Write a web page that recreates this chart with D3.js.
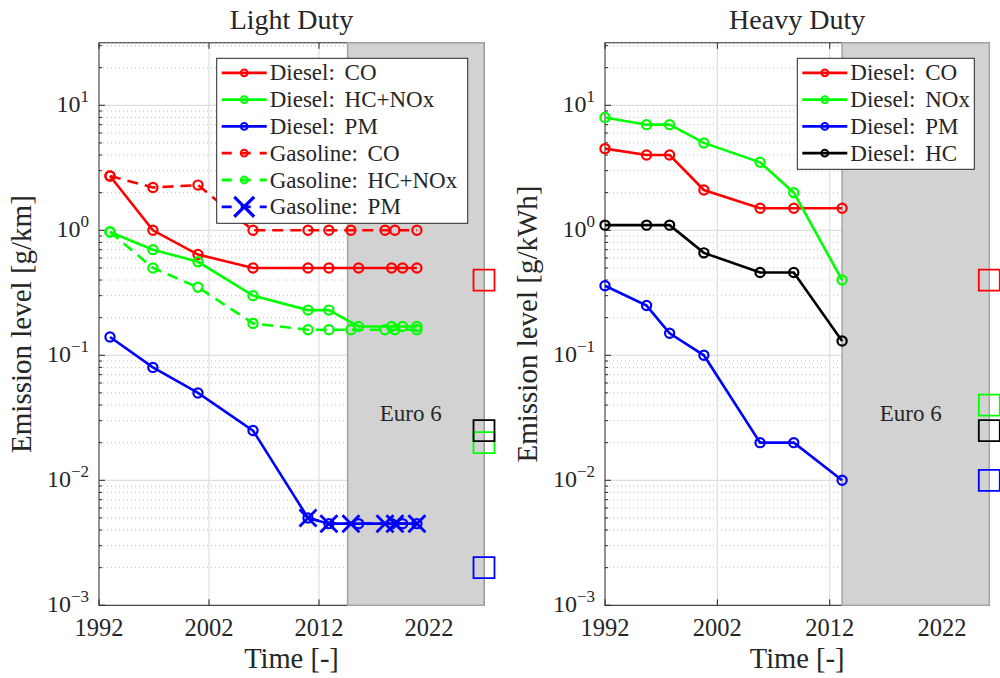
<!DOCTYPE html>
<html>
<head>
<meta charset="utf-8">
<script src="https://cdn.jsdelivr.net/npm/d3@7.9.0/dist/d3.min.js"></script>
<style>
  body { margin: 0; background: #fff; }
  svg text { font-family: "Liberation Serif", "DejaVu Serif", serif; fill: #262626; }
</style>
</head>
<body>
<svg id="chart" width="1000" height="678"></svg>
<script>
// ---- Light duty limits [g/km] ----
const ldYearsDiesel   = [1993.0, 1996.9, 2001.0, 2006.0, 2011.0, 2012.9, 2015.6, 2018.6, 2019.6, 2020.9];
const ldYearsGasoline = [1993.0, 1996.9, 2001.0, 2006.0, 2011.0, 2012.9, 2014.9, 2018.0, 2018.9, 2020.9];
const ldYearsGasPM    = [2011.0, 2012.9, 2014.9, 2018.0, 2018.9, 2020.9];
const ldDieselCO    = [2.72, 1.0, 0.64, 0.5, 0.5, 0.5, 0.5, 0.5, 0.5, 0.5];
const ldDieselHCNOx = [0.97, 0.7, 0.56, 0.3, 0.23, 0.23, 0.17, 0.17, 0.17, 0.17];
const ldDieselPM    = [0.14, 0.08, 0.05, 0.025, 0.005, 0.0045, 0.0045, 0.0045, 0.0045, 0.0045];
const ldGasCO       = [2.72, 2.2, 2.3, 1.0, 1.0, 1.0, 1.0, 1.0, 1.0, 1.0];
const ldGasHCNOx    = [0.97, 0.5, 0.35, 0.18, 0.16, 0.16, 0.16, 0.16, 0.16, 0.16];
const ldGasPM       = [0.005, 0.0045, 0.0045, 0.0045, 0.0045, 0.0045];
// squares at the right edge (red, green, black, blue)
const ldTargets = [0.4, 0.02, 0.025, 0.002];

// ---- Heavy duty limits [g/kWh] ----
const hdYears    = [1992.0, 1995.7, 1997.75, 2000.8, 2005.8, 2008.8, 2013.1];
const hdDieselCO  = [4.5, 4.0, 4.0, 2.1, 1.5, 1.5, 1.5];
const hdDieselNOx = [8.0, 7.0, 7.0, 5.0, 3.5, 2.0, 0.4];
const hdDieselPM  = [0.36, 0.25, 0.15, 0.10, 0.02, 0.02, 0.01];
const hdDieselHC  = [1.1, 1.1, 1.1, 0.66, 0.46, 0.46, 0.13];
const hdTargets = [0.4, 0.04, 0.025, 0.01];

const xTickValues = [1992, 2002, 2012, 2022];
const targetColors = ['#ff0000', '#00ff00', '#000000', '#0000ff'];

const svg = d3.select('#chart');
const zip = (xs, ys) => xs.map((v, i) => [v, ys[i]]);

function drawPanel(p) {
  const x = d3.scaleLinear().domain(p.xDomain).range([p.left, p.right]);
  const y = d3.scaleLog().domain([1e-3, Math.pow(10, 1.5)]).range([605.3, 42.8]);
  const g = svg.append('g');
  const top = y.range()[1], bottom = y.range()[0];

  const yAll = y.ticks();
  const isMajor = v => Math.abs(Math.log10(v) - Math.round(Math.log10(v))) < 1e-9;

  // grid
  g.selectAll('.minor').data(yAll.filter(v => !isMajor(v))).join('line')
    .attr('x1', p.left).attr('x2', p.right)
    .attr('y1', d => y(d)).attr('y2', d => y(d))
    .attr('stroke', '#b8b8b8').attr('stroke-width', 0.9).attr('stroke-dasharray', '1,3');
  g.selectAll('.major').data(yAll.filter(isMajor)).join('line')
    .attr('x1', p.left).attr('x2', p.right)
    .attr('y1', d => y(d)).attr('y2', d => y(d))
    .attr('stroke', '#dedede').attr('stroke-width', 1.2);
  g.selectAll('.xgrid').data(xTickValues.slice(1)).join('line')
    .attr('x1', d => x(d)).attr('x2', d => x(d))
    .attr('y1', top).attr('y2', bottom)
    .attr('stroke', '#dedede').attr('stroke-width', 1.2);

  // box and ticks
  g.append('rect').attr('x', p.left).attr('y', top)
    .attr('width', p.right - p.left).attr('height', bottom - top)
    .attr('fill', 'none').attr('stroke', '#262626').attr('stroke-width', 1);
  g.selectAll('.yt').data(yAll).join('line')
    .attr('x1', p.left).attr('x2', d => p.left + (isMajor(d) ? 6 : 3))
    .attr('y1', d => y(d)).attr('y2', d => y(d))
    .attr('stroke', '#262626').attr('stroke-width', 1);
  g.selectAll('.xt').data(xTickValues).join('line')
    .attr('x1', d => x(d)).attr('x2', d => x(d))
    .attr('y1', bottom).attr('y2', bottom - 6)
    .attr('stroke', '#262626').attr('stroke-width', 1);
  g.selectAll('.xt2').data(xTickValues).join('line')
    .attr('x1', d => x(d)).attr('x2', d => x(d))
    .attr('y1', top).attr('y2', top + 6)
    .attr('stroke', '#262626').attr('stroke-width', 1);

  // tick labels
  g.selectAll('.xl').data(xTickValues).join('text')
    .attr('x', d => x(d)).attr('y', 636)
    .attr('text-anchor', 'middle').attr('font-size', 24.5)
    .text(d => d);
  const yl = g.selectAll('.yl').data(yAll.filter(isMajor)).join('text')
    .attr('x', p.left - 10).attr('y', d => y(d) + 6.5)
    .attr('text-anchor', 'end').attr('font-size', 24);
  yl.append('tspan').text('10');
  yl.append('tspan').attr('dy', -10).attr('font-size', 17)
    .text(d => { const e = Math.round(Math.log10(d)); return e < 0 ? '\u2212' + (-e) : e; });

  // Euro 6 region
  g.append('rect')
    .attr('x', x(p.euroStart)).attr('y', top)
    .attr('width', x(p.xDomain[1]) - x(p.euroStart)).attr('height', bottom - top)
    .attr('fill', '#d2d2d2').attr('stroke', '#a4a4a4').attr('stroke-width', 1.5);

  // series
  const line = d3.line().x(d => x(d[0])).y(d => y(d[1]));
  p.series.forEach(s => {
    const pts = zip(s.years, s.values);
    g.append('path').datum(pts).attr('d', line)
      .attr('fill', 'none').attr('stroke', s.color).attr('stroke-width', 2.6)
      .attr('stroke-dasharray', s.dashed ? '11,7' : null);
    if (s.marker === 'x') {
      g.selectAll(null).data(pts).join('path')
        .attr('transform', d => `translate(${x(d[0])},${y(d[1])})`)
        .attr('d', d3.symbol(d3.symbolX, 190))
        .attr('fill', 'none').attr('stroke', s.color).attr('stroke-width', 2.8);
    } else {
      g.selectAll(null).data(pts).join('circle')
        .attr('cx', d => x(d[0])).attr('cy', d => y(d[1])).attr('r', 4.6)
        .attr('fill', 'none').attr('stroke', s.color).attr('stroke-width', 2.2);
    }
  });

  // target squares on the right edge
  g.selectAll('.sq').data(p.targets).join('path')
    .attr('transform', d => `translate(${x(p.xDomain[1])},${y(d)})`)
    .attr('d', d3.symbol(d3.symbolSquare, 440))
    .attr('fill', 'none').attr('stroke', (d, i) => targetColors[i]).attr('stroke-width', 1.8);

  g.append('text')
    .attr('x', (x(p.euroStart) + x(p.xDomain[1])) / 2 - 5).attr('y', y(0.03))
    .attr('text-anchor', 'middle').attr('font-size', 23)
    .text('Euro 6');

  // titles and labels
  const cx = (p.left + p.right) / 2;
  g.append('text').attr('x', cx).attr('y', 29)
    .attr('text-anchor', 'middle').attr('font-size', 28).text(p.title);
  g.append('text').attr('x', cx).attr('y', 668)
    .attr('text-anchor', 'middle').attr('font-size', 28.5).text('Time [-]');
  g.append('text')
    .attr('transform', `translate(${p.ylabelX},${(top + bottom) / 2}) rotate(-90)`)
    .attr('text-anchor', 'middle').attr('dy', '0.35em').attr('font-size', 29)
    .text(p.ylabel);

  // legend
  const lg = g.append('g');
  lg.append('rect').attr('x', p.legend.x).attr('y', p.legend.y)
    .attr('width', p.legend.w).attr('height', p.legend.h)
    .attr('fill', '#fff').attr('stroke', '#262626').attr('stroke-width', 1);
  p.series.forEach((s, i) => {
    const ry = p.legend.y + 14.5 + i * 26.8;
    const lx = p.legend.x + 5;
    lg.append('line').attr('x1', lx).attr('x2', lx + 45).attr('y1', ry).attr('y2', ry)
      .attr('stroke', s.color).attr('stroke-width', 2.8)
      .attr('stroke-dasharray', s.dashed ? '10,9' : null);
    if (s.marker === 'x') {
      lg.append('path').attr('transform', `translate(${lx + 22.5},${ry})`)
        .attr('d', d3.symbol(d3.symbolX, 260))
        .attr('fill', 'none').attr('stroke', s.color).attr('stroke-width', 3.2);
    } else {
      lg.append('circle').attr('cx', lx + 22.5).attr('cy', ry).attr('r', 3.4)
        .attr('fill', 'none').attr('stroke', s.color).attr('stroke-width', 2);
    }
    lg.append('text').attr('x', lx + 48).attr('y', ry + 7.5)
      .attr('font-size', 23).style('word-spacing', '4px').text(s.label);
  });
}

drawPanel({
  title: 'Light Duty', ylabel: 'Emission level [g/km]', ylabelX: 21,
  left: 99, right: 484, xDomain: [1992, 2027], euroStart: 2014.6,
  targets: ldTargets,
  legend: { x: 216.7, y: 58.3, w: 251, h: 165 },
  series: [
    { label: 'Diesel: CO', color: '#ff0000', years: ldYearsDiesel, values: ldDieselCO },
    { label: 'Diesel: HC+NOx', color: '#00ff00', years: ldYearsDiesel, values: ldDieselHCNOx },
    { label: 'Diesel: PM', color: '#0000ff', years: ldYearsDiesel, values: ldDieselPM },
    { label: 'Gasoline: CO', color: '#ff0000', dashed: true, years: ldYearsGasoline, values: ldGasCO },
    { label: 'Gasoline: HC+NOx', color: '#00ff00', dashed: true, years: ldYearsGasoline, values: ldGasHCNOx },
    { label: 'Gasoline: PM', color: '#0000ff', dashed: true, marker: 'x', years: ldYearsGasPM, values: ldGasPM }
  ]
});

drawPanel({
  title: 'Heavy Duty', ylabel: 'Emission level [g/kWh]', ylabelX: 527,
  left: 605, right: 989.3, xDomain: [1992, 2026.2], euroStart: 2013.1,
  targets: hdTargets,
  legend: { x: 797.3, y: 58.3, w: 177, h: 111 },
  series: [
    { label: 'Diesel: CO', color: '#ff0000', years: hdYears, values: hdDieselCO },
    { label: 'Diesel: NOx', color: '#00ff00', years: hdYears, values: hdDieselNOx },
    { label: 'Diesel: PM', color: '#0000ff', years: hdYears, values: hdDieselPM },
    { label: 'Diesel: HC', color: '#000000', years: hdYears, values: hdDieselHC }
  ]
});
</script>
</body>
</html>
